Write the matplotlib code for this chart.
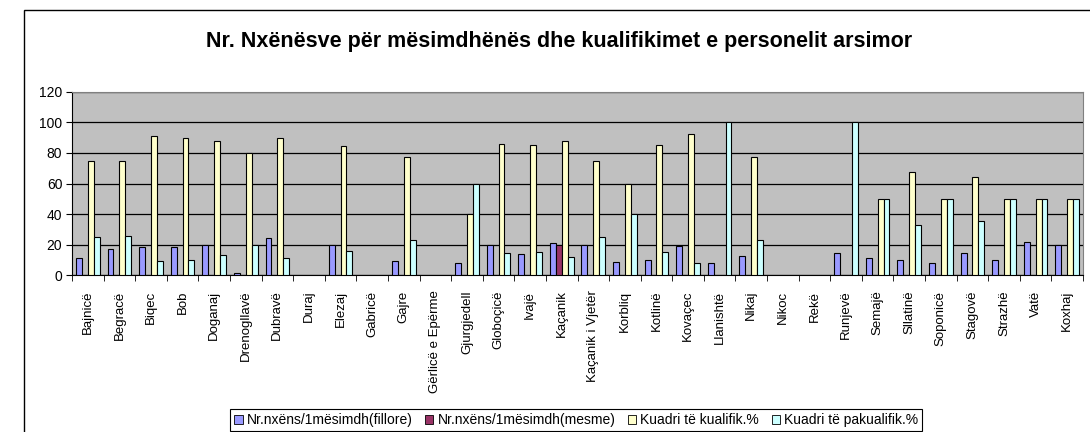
import matplotlib.pyplot as plt
import numpy as np
from matplotlib.patches import Rectangle

plt.rcParams['font.family'] = ['Liberation Sans', 'DejaVu Sans']

# kategorite (fshatrat)
fshatrat = ['Bajnicë', 'Begracë', 'Biqec', 'Bob', 'Doganaj', 'Drenogllavë', 'Dubravë',
            'Duraj', 'Elezaj', 'Gabricë', 'Gajre', 'Gërlicë e Epërme', 'Gjurgjedell',
            'Globoçicë', 'Ivajë', 'Kaçanik', 'Kaçanik i Vjetër', 'Korbliq', 'Kotlinë',
            'Kovaçec', 'Llanishtë', 'Nikaj', 'Nikoc', 'Rekë', 'Runjevë', 'Semajë',
            'Sllatinë', 'Soponicë', 'Stagovë', 'Strazhë', 'Vatë', 'Koxhaj']

n = np.nan
fillore = [11.5, 17, 18.5, 18.5, 19.8, 1.5, 24.4, n, 20, n, 9.3, n, 8, 20, 13.7, 21,
           20, 8.5, 9.8, 19.4, 7.8, 12.4, n, n, 14.4, 11.3, 10, 8, 14.4, 10, 22, 19.6]
mesme = [n] * 15 + [19.6] + [n] * 16
kualifik = [75, 74.5, 91, 90, 87.5, 80, 89.5, n, 84.5, n, 77, n, 40, 86, 85, 88,
            75, 60, 85, 92.3, n, 77, n, n, n, 50, 67.3, 50, 64.2, 50, 50, 50]
pakualifik = [25, 26, 9.3, 10, 13, 20, 11, n, 15.7, n, 23, n, 60, 14.4, 15, 12.2,
              25, 40, 15, 7.8, 100, 23, n, n, 100, 50, 33, 50, 35.7, 50, 50, 50]

seri = [fillore, mesme, kualifik, pakualifik]
emrat = ['Nr.nxëns/1mësimdh(fillore)', 'Nr.nxëns/1mësimdh(mesme)',
         'Kuadri të kualifik.%', 'Kuadri të pakualifik.%']
ngjyrat = ['#9999FF', '#993366', '#FFFFCC', '#CCFFFF']

fig = plt.figure(figsize=(10.9, 4.32), dpi=100)
ax = fig.add_axes([72/1090, 1-275.3/432, (1083-72)/1090, (275.3-91.7)/432])
ax.set_facecolor('#C0C0C0')

x = np.arange(len(fshatrat))
w = 0.187
for i in range(4):
    ax.bar(x + (i-1.5)*w, seri[i], width=w, color=ngjyrat[i], edgecolor='black',
           linewidth=0.8, label=emrat[i], zorder=3)

ax.set_xlim(-0.5, len(fshatrat)-0.5)
ax.set_ylim(0, 120)
ax.set_yticks(range(0, 121, 20))
ax.yaxis.grid(True, color='black', linewidth=0.9, zorder=1)
ax.tick_params(axis='y', labelsize=10, length=4, direction='out', pad=3)

ax.set_xticks(x)
ax.set_xticklabels(fshatrat, rotation=90, fontsize=9.5, va='top')
ax.set_xticks(np.arange(-0.5, len(fshatrat)), minor=True)
ax.tick_params(axis='x', which='major', length=0, pad=11)
ax.tick_params(axis='x', which='minor', length=4, direction='out')

ax.spines['top'].set_color('#808080')
ax.spines['right'].set_color('#808080')

fig.text(559/1090, 1-46.5/432, 'Nr. Nxënësve për mësimdhënës dhe kualifikimet e personelit arsimor',
         ha='center', va='baseline', fontsize=15.5, fontweight='bold')

# korniza e grafikut
fig.patches.append(Rectangle((24/1090, -0.1), 1.2, 1.1 - 10/432, transform=fig.transFigure,
                             fill=False, edgecolor='black', linewidth=1))

leg = fig.legend(loc='upper left', bbox_to_anchor=(230/1090, 1-409/432), ncol=4,
                 fontsize=10, fancybox=False, edgecolor='black', framealpha=1,
                 handlelength=0.6, handleheight=0.6, handletextpad=0.3,
                 columnspacing=0.9, borderpad=0.3, borderaxespad=0)
leg.get_frame().set_linewidth(0.8)
for h in leg.legend_handles:
    h.set_linewidth(0.6)

fig.savefig('out.png', dpi=100)
